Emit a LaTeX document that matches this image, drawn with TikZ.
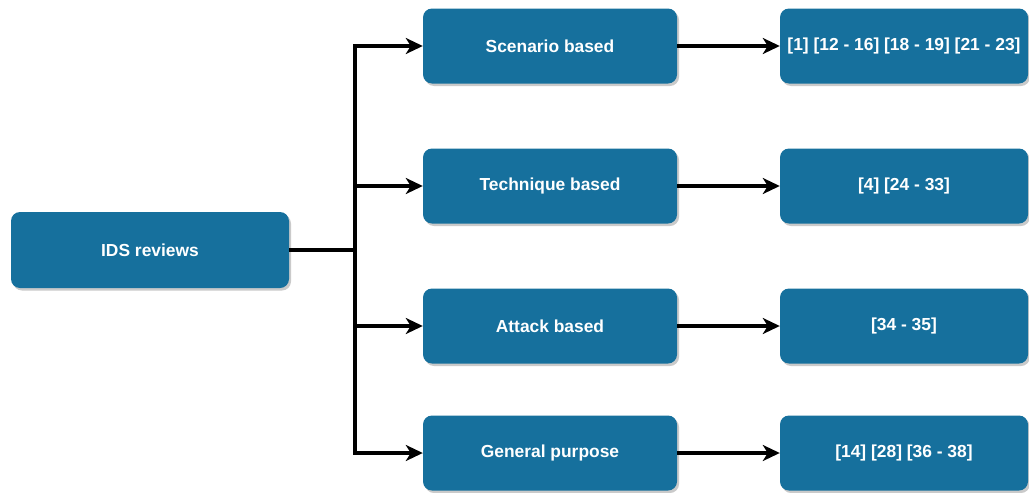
\documentclass[tikz,border=0pt]{standalone}
\usepackage{fontspec}
\setmainfont{Liberation Sans}
\usetikzlibrary{arrows.meta,shadows}
\definecolor{boxblue}{HTML}{16709D}
\begin{document}
\begin{tikzpicture}[x=1pt,y=-1pt,
  box/.style={draw=none,fill=boxblue,rounded corners=9pt,
    text=white,font=\fontsize{17.4}{20}\selectfont\bfseries,
    minimum height=75pt,inner sep=0pt,
    drop shadow={shadow xshift=2pt,shadow yshift=-2.5pt,opacity=0.35,fill=black!60}},
  rootbox/.style={box,minimum width=278pt,minimum height=76pt},
  midbox/.style={box,minimum width=254pt},
  refbox/.style={box,minimum width=248pt},
  link/.style={line width=3.2pt,-{Stealth[length=17pt,width=16pt,inset=5pt]}},
  trunk/.style={line width=3.2pt}]
\useasboundingbox (0,0) rectangle (1029,493);

% root
\node[rootbox] (root) at (150,250) {IDS reviews};

% categories
\node[midbox] (scen) at (550,46)  {Scenario based};
\node[midbox] (tech) at (550,186) {Technique based};
\node[midbox] (att)  at (550,326) {Attack based};
\node[midbox] (gen)  at (550,453) {General purpose};

% reference lists
\node[refbox] (rscen) at (904,46)  {[1] [12 - 16] [18 - 19] [21 - 23]};
\node[refbox] (rtech) at (904,186) {[4] [24 - 33]};
\node[refbox] (ratt)  at (904,326) {[34 - 35]};
\node[refbox] (rgen)  at (904,453) {[14] [28] [36 - 38]};

% branching trunk
\coordinate (split) at (355,250);
\draw[trunk] (root.east) -- (split);
\draw[link] (split) |- (scen.west);
\draw[link] (split) |- (tech.west);
\draw[link] (split) |- (att.west);
\draw[link] (split) |- (gen.west);

% category to references
\draw[link] (scen.east) -- (rscen.west);
\draw[link] (tech.east) -- (rtech.west);
\draw[link] (att.east) -- (ratt.west);
\draw[link] (gen.east) -- (rgen.west);
\end{tikzpicture}
\end{document}
